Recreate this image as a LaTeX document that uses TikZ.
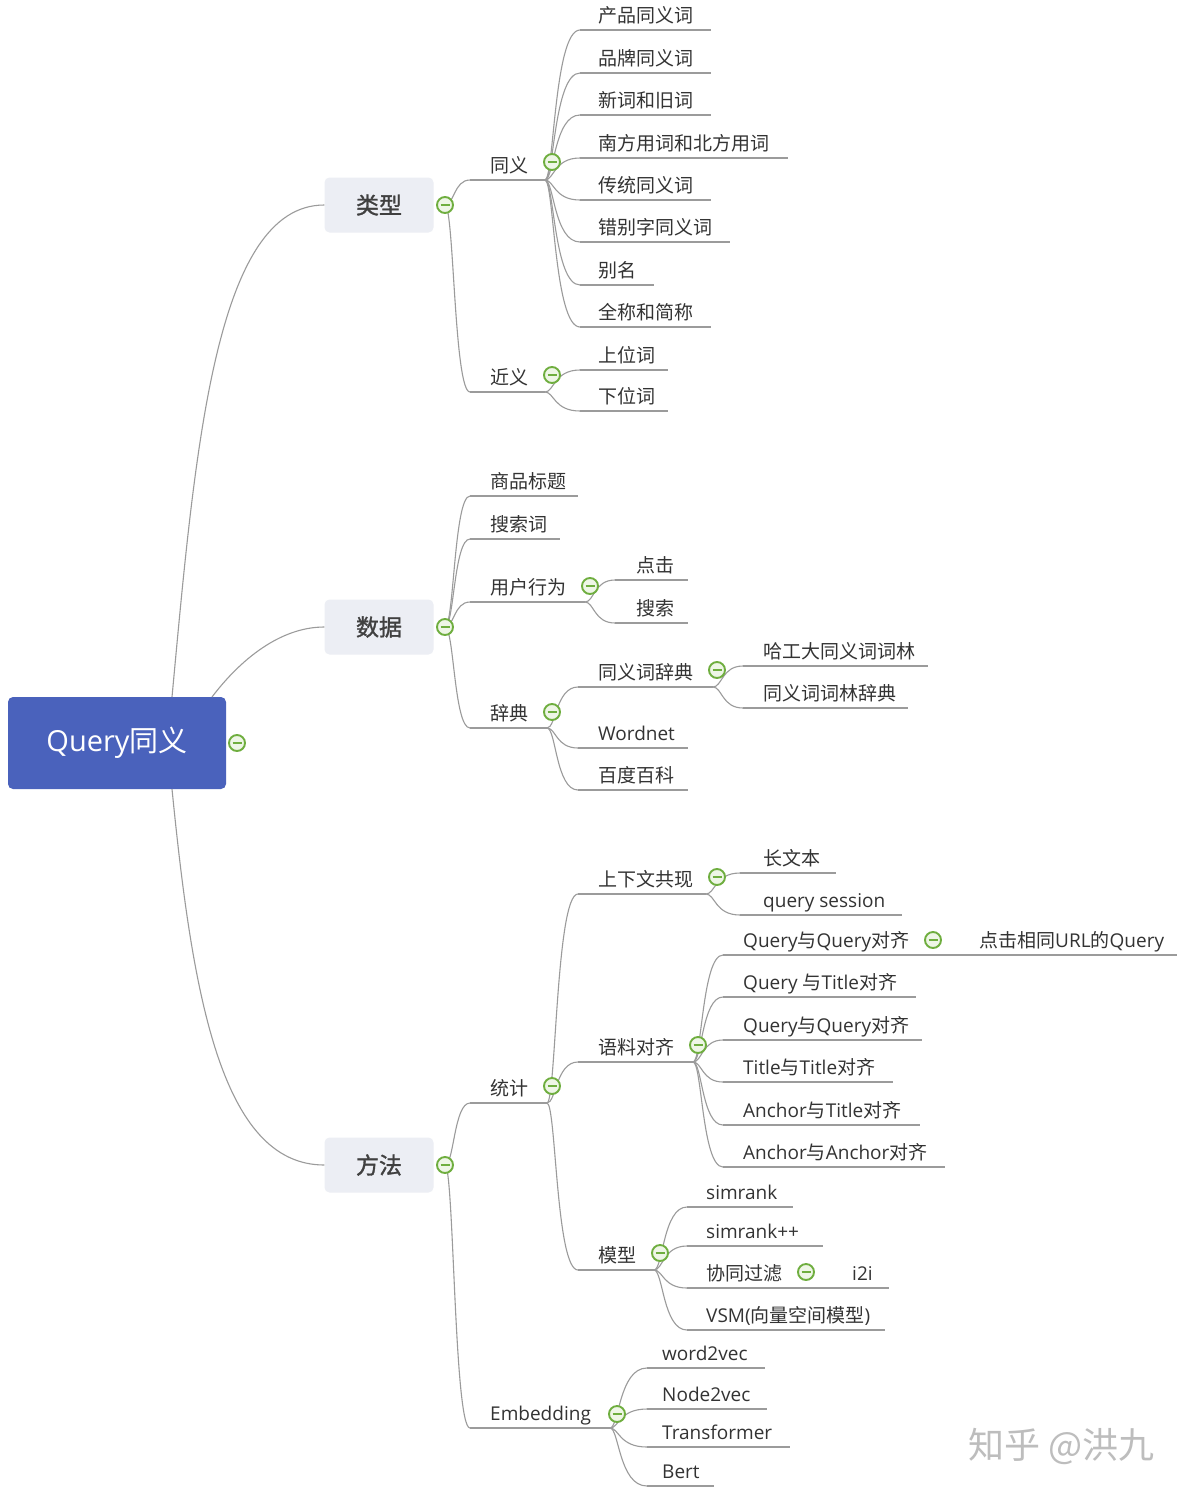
\documentclass[tikz,border=0pt]{standalone}
\usepackage{fontspec}
\setmainfont{Noto Sans CJK SC}
\newfontfamily\lat{Open Sans}
\newfontfamily\boxfont[FakeBold=1.3]{Noto Sans CJK SC}
\usetikzlibrary{calc}
\definecolor{lncol}{HTML}{9B9B9B}
\definecolor{txcol}{HTML}{333333}
\definecolor{rootcol}{HTML}{4A62BC}
\definecolor{boxcol}{HTML}{ECEEF4}
\definecolor{boxtx}{HTML}{404040}
\definecolor{mincol}{HTML}{6FAE3F}
\definecolor{minfill}{HTML}{EEF6E6}
\definecolor{wmcol}{HTML}{BDBDBD}
\newcommand\mylat[1]{{\lat #1}}
\newcommand\mmleaf[6]{%
  \coordinate (#1s) at (#4,#3);
  \coordinate (#1e) at (#5,#3);
  \node[lbl] (#1) at (#2,#3) {#6};
  \draw[ul] (#1s) -- (#1e);}
\newcommand\mmlink[2]{\draw[cn] (#1.center) .. controls ($(#1.center)+(9,0)$) and ($(#1.center |- #2.center)+(9,0)$) .. (#2.center);}
\tikzset{
  lbl/.style={anchor=base west, inner sep=0pt, yshift=8pt, text=txcol, font=\fontsize{19}{19}\selectfont},
  ul/.style={draw=lncol, line width=1.1pt},
  cn/.style={draw=lncol, line width=1.1pt},
  mainbox/.style={rounded corners=5pt, fill=boxcol, minimum width=109pt, minimum height=55pt, inner sep=0pt, text=boxtx, font=\fontsize{23}{23}\boxfont},
  rootbox/.style={rounded corners=5pt, fill=rootcol, minimum width=218pt, minimum height=92pt, inner sep=0pt, text=white, font=\fontsize{29}{29}\selectfont},
  minus/.style={circle, draw=mincol, fill=minfill, line width=1.9pt, minimum size=16pt, inner sep=0pt,
    path picture={\draw[mincol, line width=2pt] ($(path picture bounding box.center)+(-4.5,0)$) -- ($(path picture bounding box.center)+(4.5,0)$);}},
}
\begin{document}
\begin{tikzpicture}[x=1pt, y=-1pt]
\fill[white] (0,0) rectangle (1186,1494);
\useasboundingbox (0,0) rectangle (1186,1494);

% root and main boxes
\node[rootbox] (root) at (117,743) {\mylat{Query}同义};
\node[mainbox] (lx) at (379,205) {类型};
\node[mainbox] (sj) at (379,627) {数据};
\node[mainbox] (ff) at (379,1165) {方法};
\coordinate (rt1) at (172,697);
\coordinate (rt2) at (212,697);
\coordinate (rb1) at (172,789);
\coordinate (jlx) at (445,205);
\coordinate (jsj) at (445,627);
\coordinate (jff) at (445,1165);

% ---- 类型
\mmleaf{ty}{490}{180}{470}{545}{同义}
\mmleaf{jy}{490}{392}{470}{545}{近义}
\mmleaf{a1}{598}{30}{580}{711}{产品同义词}
\mmleaf{a2}{598}{73}{580}{711}{品牌同义词}
\mmleaf{a3}{598}{115}{580}{711}{新词和旧词}
\mmleaf{a4}{598}{158}{580}{788}{南方用词和北方用词}
\mmleaf{a5}{598}{200}{580}{711}{传统同义词}
\mmleaf{a6}{598}{242}{580}{730}{错别字同义词}
\mmleaf{a7}{598}{285}{580}{654}{别名}
\mmleaf{a8}{598}{327}{580}{711}{全称和简称}
\mmleaf{j1}{598}{370}{580}{668}{上位词}
\mmleaf{j2}{598}{411}{580}{668}{下位词}

% ---- 数据
\mmleaf{b1}{490}{496}{470}{578}{商品标题}
\mmleaf{b2}{490}{539}{470}{560}{搜索词}
\mmleaf{b3}{490}{602}{470}{585}{用户行为}
\mmleaf{b31}{636}{580}{615}{688}{点击}
\mmleaf{b32}{636}{623}{615}{688}{搜索}
\mmleaf{b4}{490}{728}{470}{547}{辞典}
\mmleaf{b41}{598}{687}{578}{713}{同义词辞典}
\mmleaf{b411}{763}{666}{743}{928}{哈工大同义词词林}
\mmleaf{b412}{763}{708}{743}{908}{同义词词林辞典}
\mmleaf{b42}{598}{748}{578}{688}{\mylat{Wordnet}}
\mmleaf{b43}{598}{790}{578}{688}{百度百科}

% ---- 方法
\mmleaf{c1}{490}{1103}{470}{547}{统计}
\mmleaf{c11}{598}{894}{578}{706}{上下文共现}
\mmleaf{c111}{763}{873}{740}{836}{长文本}
\mmleaf{c112}{763}{915}{740}{902}{\mylat{query session}}
\mmleaf{c12}{598}{1062}{578}{693}{语料对齐}
\mmleaf{c121}{743}{955}{723}{945}{\mylat{Query}与\mylat{Query}对齐}
\mmleaf{c1211}{979}{955}{945}{1177}{点击相同\mylat{URL}的\mylat{Query}}
\mmleaf{c122}{743}{997}{723}{916}{\mylat{Query }与\mylat{Title}对齐}
\mmleaf{c123}{743}{1040}{723}{922}{\mylat{Query}与\mylat{Query}对齐}
\mmleaf{c124}{743}{1082}{723}{893}{\mylat{Title}与\mylat{Title}对齐}
\mmleaf{c125}{743}{1125}{723}{920}{\mylat{Anchor}与\mylat{Title}对齐}
\mmleaf{c126}{743}{1167}{723}{945}{\mylat{Anchor}与\mylat{Anchor}对齐}
\mmleaf{c13}{598}{1270}{578}{654}{模型}
\mmleaf{c131}{706}{1207}{687}{793}{\mylat{simrank}}
\mmleaf{c132}{706}{1246}{687}{823}{\mylat{simrank++}}
\mmleaf{c133}{706}{1288}{687}{810}{协同过滤}
\mmleaf{c1331}{852}{1288}{810}{889}{\mylat{i2i}}
\mmleaf{c134}{706}{1330}{687}{885}{\mylat{VSM(}向量空间模型\mylat{)}}
\mmleaf{c2}{490}{1428}{470}{610}{\mylat{Embedding}}
\mmleaf{c21}{662}{1368}{647}{765}{\mylat{word2vec}}
\mmleaf{c22}{662}{1409}{647}{767}{\mylat{Node2vec}}
\mmleaf{c23}{662}{1447}{647}{790}{\mylat{Transformer}}
\mmleaf{c24}{662}{1486}{647}{714}{\mylat{Bert}}

% root connectors
\draw[cn] (rt1) .. controls (195,450) and (215,205) .. (lx.west);
\draw[cn] (rt2) .. controls (240,660) and (280,627) .. (sj.west);
\draw[cn] (rb1) .. controls (192,990) and (220,1165) .. (ff.west);

% links
\mmlink{jlx}{tys}
\mmlink{jlx}{jys}
\foreach \k in {a1,a2,a3,a4,a5,a6,a7,a8} {\mmlink{tye}{\k s}}
\mmlink{jye}{j1s}
\mmlink{jye}{j2s}
\foreach \k in {b1,b2,b3,b4} {\mmlink{jsj}{\k s}}
\mmlink{b3e}{b31s}
\mmlink{b3e}{b32s}
\foreach \k in {b41,b42,b43} {\mmlink{b4e}{\k s}}
\mmlink{b41e}{b411s}
\mmlink{b41e}{b412s}
\mmlink{jff}{c1s}
\mmlink{jff}{c2s}
\foreach \k in {c11,c12,c13} {\mmlink{c1e}{\k s}}
\mmlink{c11e}{c111s}
\mmlink{c11e}{c112s}
\foreach \k in {c121,c122,c123,c124,c125,c126} {\mmlink{c12e}{\k s}}
\foreach \k in {c131,c132,c133,c134} {\mmlink{c13e}{\k s}}
\foreach \k in {c21,c22,c23,c24} {\mmlink{c2e}{\k s}}

% minus circles on top
\node[minus] (mroot) at (237,743) {};
\node[minus] (mlx) at (jlx) {};
\node[minus] (msj) at (jsj) {};
\node[minus] (mff) at (jff) {};
\node[minus] (mty) at (552,162) {};
\node[minus] (mjy) at (552,375) {};
\node[minus] (mb3) at (590,586) {};
\node[minus] (mb4) at (552,712) {};
\node[minus] (mb41) at (717,670) {};
\node[minus] (mc1) at (552,1086) {};
\node[minus] (mc11) at (717,877) {};
\node[minus] (mc12) at (698,1045) {};
\node[minus] (mc121) at (933,940) {};
\node[minus] (mc13) at (660,1253) {};
\node[minus] (mc133) at (806,1272) {};
\node[minus] (mc2) at (617,1414) {};

% watermark
\node[anchor=west, inner sep=0pt, text=wmcol, font=\fontsize{36}{36}\selectfont] (wm) at (968,1446) {知乎 @洪九};
\end{tikzpicture}
\end{document}
